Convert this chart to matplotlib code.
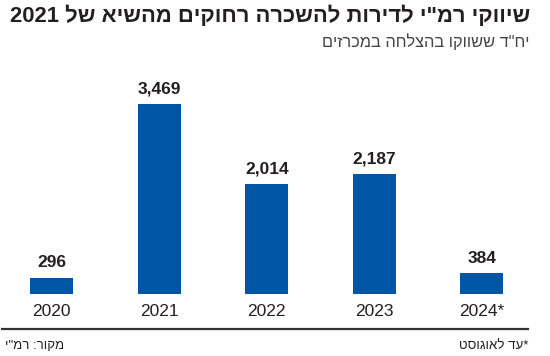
import re
import matplotlib
matplotlib.use("Agg")
import matplotlib.pyplot as plt

years = ["2020", "2021", "2022", "2023", "2024*"]
units = [296, 3469, 2014, 2187, 384]
title = 'שיווקי רמ"י לדירות להשכרה רחוקים מהשיא של 2021'
subtitle = 'יח"ד ששווקו בהצלחה במכרזים'
source = 'מקור: רמ"י'
note = "*עד לאוגוסט"

bar_color = "#0055a4"
ink = "#231f20"
heb = ["Liberation Sans", "DejaVu Sans"]


def rtl(s):
    # matplotlib has no bidi, so lay hebrew out in visual order by hand
    r = s[::-1]
    return re.sub(r"\d+", lambda m: m.group(0)[::-1], r)


def fit_width(t, px):
    # shrink/grow a text so it spans px pixels
    r = fig.canvas.get_renderer()
    w = t.get_window_extent(r).width
    t.set_fontsize(t.get_fontsize() * px / w)


W, H = 550, 356
fig = plt.figure(figsize=(W / 100, H / 100), dpi=100)

# baseline at y=294px, bar pitch 107.6px, first center at 51.5px
base = 294
pitch = 107.6
x0 = 51.5
px_per_unit = 0.0548
ax = fig.add_axes([0, (H - base) / H, 1, base / H])
ax.set_xlim(-x0 / pitch, (W - x0) / pitch)
ax.set_ylim(0, base / px_per_unit)
ax.axis("off")

xs = list(range(len(years)))
ax.bar(xs, units, width=43 / pitch, color=bar_color)
for x, v in zip(xs, units):
    ax.annotate(f"{v:,}", (x, v), xytext=(0, 7.5), textcoords="offset points",
                ha="center", va="baseline", fontsize=12.5, fontweight="bold",
                family=heb, color=ink)
    ax.annotate(years[x], (x, 0), xytext=(0, -15.5), textcoords="offset points",
                ha="center", va="baseline", fontsize=12.5,
                family=heb, color=ink)

t = fig.text(530 / W, 1 - 22 / H, rtl(title), ha="right", va="baseline",
             fontsize=15, fontweight="bold", family=heb, color=ink)
fit_width(t, 521)
s = fig.text(530 / W, 1 - 47 / H, rtl(subtitle), ha="right", va="baseline",
             fontsize=12, family=heb, color="#444444")
fit_width(s, 208)

fig.add_artist(plt.Line2D([2 / W, 528 / W], [1 - 329 / H] * 2,
                          color="#333333", lw=1.6))
fig.text(5 / W, 1 - 349 / H, rtl(source), ha="left", va="baseline",
         fontsize=9.5, family=heb, color=ink)
fig.text(528 / W, 1 - 349 / H, rtl(note), ha="right", va="baseline",
         fontsize=9.5, family=heb, color=ink)

fig.savefig("out.png", dpi=100)
